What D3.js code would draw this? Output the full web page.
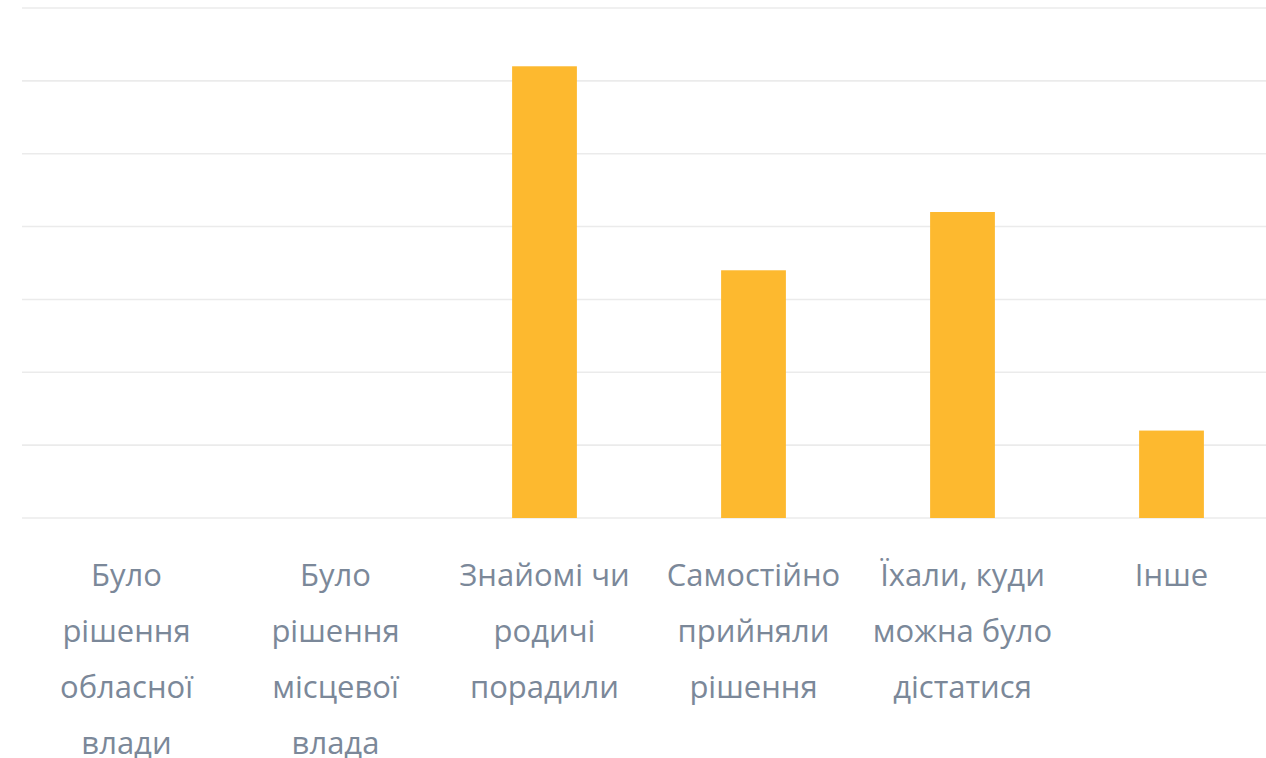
<!DOCTYPE html>
<html>
<head>
<meta charset="utf-8">
<script src="https://cdn.jsdelivr.net/npm/d3@7"></script>
<style>
  html, body { margin: 0; padding: 0; background: #fff; }
  svg { display: block; }
</style>
</head>
<body>
<div id="chart"></div>
<script>
// categories (line breaks as in the original axis labels)
const categories = [
  "Було\nрішення\nобласної\nвлади",
  "Було\nрішення\nмісцевої\nвлада",
  "Знайомі чи\nродичі\nпорадили",
  "Самостійно\nприйняли\nрішення",
  "Їхали, куди\nможна було\nдістатися",
  "Інше"
];
const values = [0, 0, 31, 17, 21, 6];
const yTicks = [0, 5, 10, 15, 20, 25, 30, 35];

const width = 1266, height = 758;
const margin = { left: 22, top: 8, bottom: 240 };
const plotW = 1254; // 6 categories x 209, runs past the right edge like the source
const baseY = height - margin.bottom;

const svg = d3.select('#chart')
  .append('svg')
  .attr('width', width)
  .attr('height', height);

const x = d3.scaleBand()
  .domain(categories)
  .range([margin.left, margin.left + plotW])
  .paddingInner(0.69)
  .paddingOuter(0.345);

const y = d3.scaleLinear()
  .domain([0, 35])
  .range([baseY, margin.top]);

// gridlines
svg.append('g')
  .selectAll('line')
  .data(yTicks)
  .join('line')
  .attr('x1', margin.left)
  .attr('x2', margin.left + plotW)
  .attr('y1', d => y(d))
  .attr('y2', d => y(d))
  .attr('stroke', '#ebebeb')
  .attr('stroke-width', 1.6);

// bars
svg.append('g')
  .selectAll('rect')
  .data(values)
  .join('rect')
  .attr('x', (d, i) => x(categories[i]))
  .attr('width', x.bandwidth())
  .attr('y', d => y(d))
  .attr('height', d => baseY - y(d))
  .attr('fill', '#fdb92f');

// category labels
const labels = svg.append('g')
  .attr('font-family', "'Segoe Print', 'Comic Sans MS', 'Open Sans', sans-serif")
  .attr('font-size', 31)
  .attr('fill', '#7b8899')
  .attr('text-anchor', 'middle');

categories.forEach((c, i) => {
  const cx = x(c) + x.bandwidth() / 2;
  const t = labels.append('text').attr('x', cx).attr('y', 586);
  c.split('\n').forEach((line, j) => {
    t.append('tspan')
      .attr('x', cx)
      .attr('y', 586 + j * 56)
      .text(line);
  });
});
</script>
</body>
</html>
